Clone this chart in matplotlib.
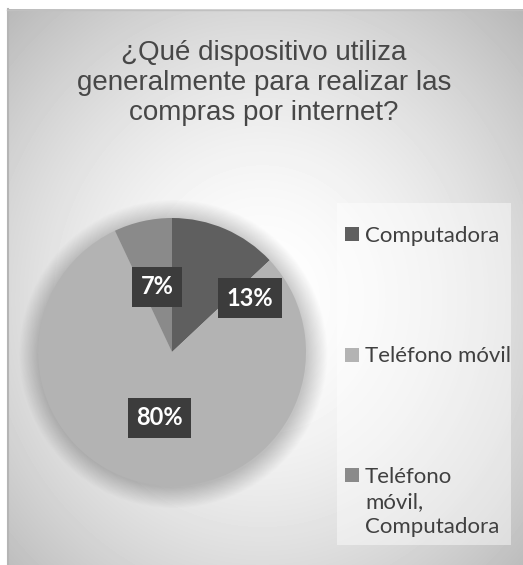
import numpy as np
import matplotlib.pyplot as plt
from matplotlib.patches import Circle, Rectangle

# Respuestas de la encuesta
categorias = ["Computadora", "Teléfono móvil", "Teléfono\nmóvil,\nComputadora"]
porcentajes = [13, 80, 7]
colores = ["#5f5f5f", "#b3b3b3", "#8a8a8a"]

titulo = "¿Qué dispositivo utiliza\ngeneralmente para realizar las\ncompras por internet?"

W, H = 523, 565
fig = plt.figure(figsize=(W / 100, H / 100), dpi=100)

def px(x, y):
    # pixeles (origen arriba a la izquierda) -> coordenadas de figura
    return x / W, 1 - y / H

# Fondo con degradado radial (marco del gráfico)
bg = fig.add_axes([7 / W, 0, 1 - 7 / W, 1 - 9 / H])
yy, xx = np.mgrid[0:H - 9, 0:W - 7]
d = np.sqrt(((xx - 255) / 330.0) ** 2 + ((yy - 290) / 360.0) ** 2)
grad = 1.0 - 0.23 * np.clip(d, 0, 1.2) ** 1.7
bg.imshow(grad, cmap="gray", vmin=0, vmax=1, aspect="auto", interpolation="bilinear")
bg.set_axis_off()
fig.add_artist(plt.Line2D([7.5 / W, 7.5 / W], [0, 1 - 9 / H], color="#b5b5b5", lw=1.5))
fig.add_artist(plt.Line2D([7 / W, 1], [1 - 9.5 / H, 1 - 9.5 / H], color="#c0c0c0", lw=1))

fig.text(*px(264, 83), titulo, ha="center", va="center", fontsize=20,
         family="Liberation Sans", color="#474747", linespacing=1.22)

# Gráfico circular
cx, cy, r = 172, 352, 134
ax = fig.add_axes([(cx - r) / W, (H - cy - r) / H, 2 * r / W, 2 * r / H])
for k in range(26):
    ax.add_patch(Circle((0.01, -0.015), 1 + k * 0.006, color="black", alpha=0.007,
                        lw=0, zorder=0, clip_on=False))
wedges, _, autotexts = ax.pie(porcentajes, colors=colores, startangle=90, counterclock=False,
                              autopct="%d%%", pctdistance=0.5,
                              textprops=dict(color="white", fontsize=17, family="Lato",
                                             weight="bold"))
for w in wedges:
    w.set_zorder(2)
    w.set_clip_on(False)
# la etiqueta del 13% queda desplazada hacia la derecha
autotexts[0].set_position((0.58, 0.40))
for t in autotexts:
    t.set_zorder(3)
    t.set_bbox(dict(boxstyle="square,pad=0.36", facecolor="#3c3c3c", edgecolor="none"))
ax.set_xlim(-1, 1)
ax.set_ylim(-1, 1)
ax.set_axis_off()

# Leyenda
x0, y0 = px(337, 545)
x1, y1 = px(511, 203)
fig.add_artist(Rectangle((x0, y0), x1 - x0, y1 - y0, transform=fig.transFigure,
                         facecolor="white", alpha=0.45, edgecolor="none"))
for i, (cat, col) in enumerate(zip(categorias, colores)):
    ty = 234 + i * 120.5
    mx, my = px(345, ty + 7)
    fig.add_artist(Rectangle((mx, my), 14 / W, 14 / H, transform=fig.transFigure,
                             facecolor=col, edgecolor="none"))
    fig.text(*px(365, ty - 8), cat, ha="left", va="top", fontsize=16, family="Lato",
             color="#404040", linespacing=1.3)

fig.savefig("out.png", dpi=100)
